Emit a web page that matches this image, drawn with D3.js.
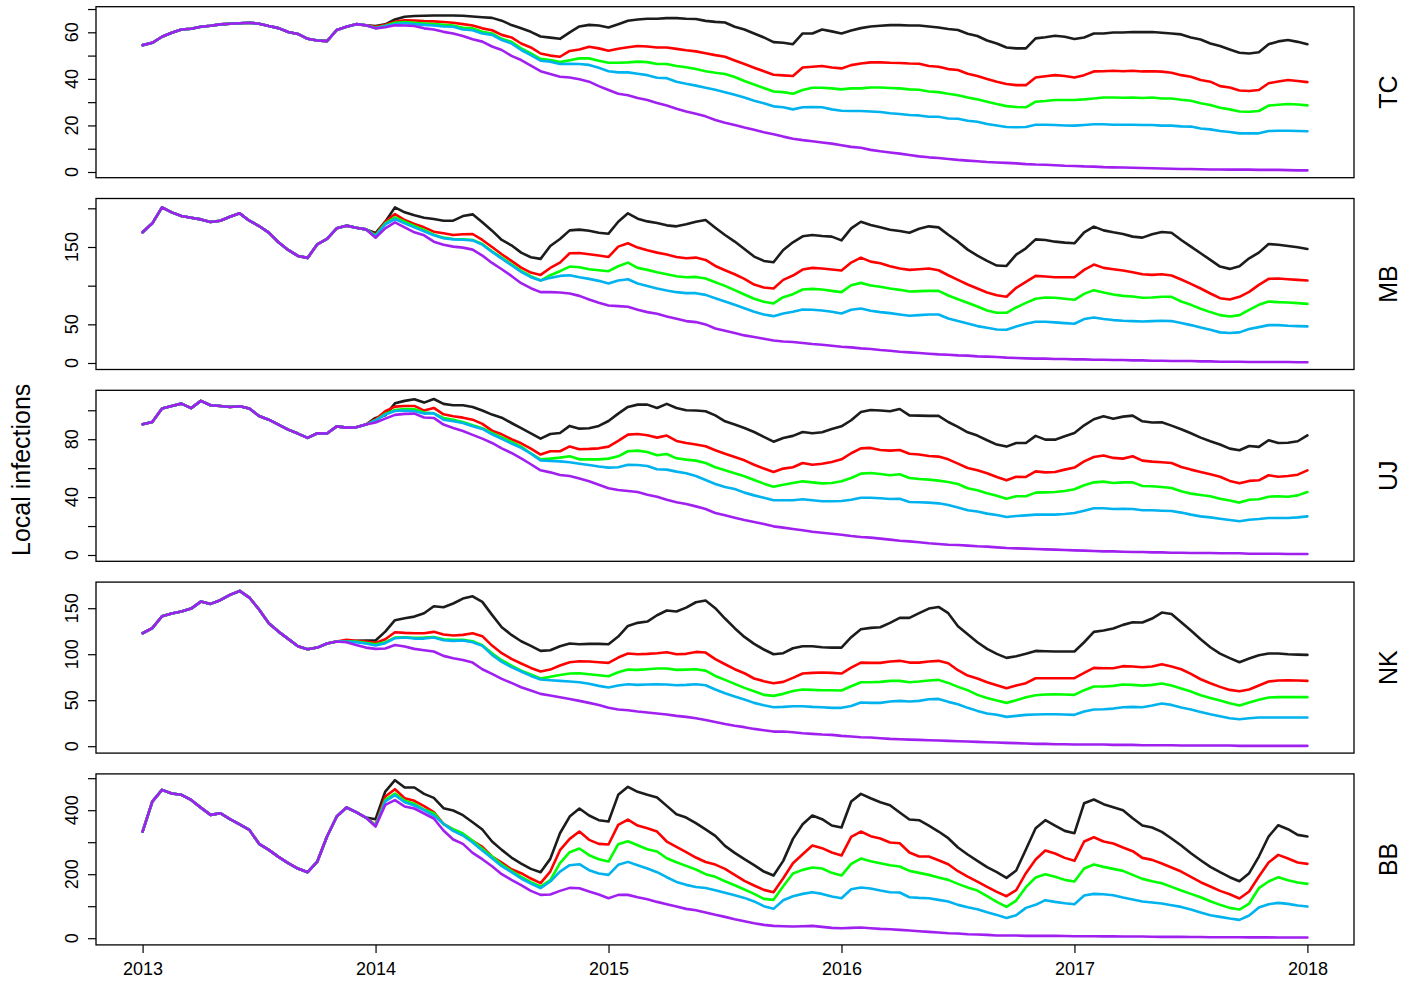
<!DOCTYPE html>
<html>
<head>
<meta charset="utf-8">
<script src="https://cdn.jsdelivr.net/npm/d3@7"></script>
<style>
  body { margin: 0; background: #ffffff; }
  svg text { font-family: "Liberation Sans", Arial, Helvetica, sans-serif; fill: #000; }
</style>
</head>
<body>
<svg id="chart" width="1416" height="982"></svg>
<script>
// Half-monthly time grid, January 2013 to January 2018
const dates = d3.range(121).map(i => 2013 + i / 24);
const yearTicks = [2013, 2014, 2015, 2016, 2017, 2018];

// Scenario line colours, drawn in this order (purple on top)
const scenarioColors = ["#1c1c1c", "#ff0000", "#00ff00", "#00b2ee", "#a020f0"];

// ---- TC ----  (common history before the scenarios split)
const tcEarly = [54.5,55.5,58.1,59.8,61.2,61.5,62.4,62.8,63.4,63.7,63.9,64.1,63.7,62.7,61.8,60.1,59.3,57.2,56.5,56.2,61,62.4,63.5,63];
const tcBlack = tcEarly.concat([62.7,63.4,65.5,66.7,67,67.1,67.2,67.2,67.2,67.1, 66.8,66.5,66.2,65,63.1,61.7,60.2,58.2,57.7,57.2, 60,62.5,63.2,62.9,62.1,63.5,65,65.5,65.8,65.8, 66.1,66.1,65.8,65.7,64.9,64.5,64.2,62.4,61.2,59.5, 57.8,55.8,55.5,54.9,59.5,59.5,61.2,60.4,59.5,60.8, 61.8,62.5,62.8,63.1,63.1,62.9,62.9,62.5,62.1,61.4, 61,59.4,58.4,56.5,55.2,53.5,53.1,53.1,57.4,57.9, 58.5,58.1,57.1,57.8,59.5,59.5,59.9,59.9,60.1,60.1, 60.1,59.8,59.5,59.1,57.8,56.9,55.2,54.1,52.6,51.2, 50.9,51.4,54.9,56.1,56.7,55.9,54.9]);
const tcRed = tcEarly.concat([62.4,63.2,64.5,65.2,65.1,64.8,64.7,64.4,64.1,63.5, 62.9,61.7,60.9,58.9,57.8,55.2,53.5,50.9,50,49.5, 52,52.6,53.8,53.1,52.1,52.9,53.6,54.1,53.9,53.5, 53.5,52.9,52.3,51.8,51,50.2,49.5,47.9,46.4,44.8, 43.3,41.8,41.5,41.2,44.9,45.2,45.5,44.9,44.5,45.9, 46.6,47.1,47.1,46.9,46.8,46.6,46.5,45.5,45.2,44.2, 43.8,42.2,41.2,39.9,38.8,37.8,37.3,37.3,40.6,41.1, 41.6,41.2,40.6,41.6,43.2,43.3,43.5,43.3,43.5,43.2, 43.3,43.1,42.6,41.6,40.9,39.5,38.8,36.9,36.3,35, 34.8,35.2,38.1,38.9,39.5,39.1,38.6]);
const tcGreen = tcEarly.concat([62.1,62.8,64.1,64.4,64.1,63.8,63.5,63.2,62.9,61.9, 61.7,60.2,59.5,57.2,55.9,53.1,50.9,48.6,48.1,47.2, 48,48.8,48.8,47.8,46.9,46.9,47.1,47.4,47.2,46.4, 46.4,45.5,45,44.2,43.3,42.6,42.1,40.8,39.1,37.6, 36.1,34.6,34.3,33.6,35.2,36.2,36.2,35.9,35.5,35.9, 35.9,36.3,36.3,36.1,35.9,35.5,35.3,34.6,34.3,33.6, 33,32,31.2,30.2,29.2,28.3,27.9,27.8,30.2,30.5, 30.9,30.9,30.9,31.2,31.6,32,32,31.9,32,31.8, 32,31.6,31.6,31,30.6,29.5,28.8,27.6,26.9,26, 25.9,26.2,28.5,28.9,29.2,29,28.6]);
const tcBlue = tcEarly.concat([61.7,62.7,63.5,63.9,63.5,63.2,62.9,62.5,62.4,61.2, 60.9,59.5,58.9,56.7,55.2,52.4,50.2,47.8,47.4,46.4, 46.5,46.4,46,44.8,43.3,42.8,42.8,42.2,41.6,40.5, 40.3,38.8,37.9,37.1,36.2,35.3,34.3,33.2,32,30.6, 29.5,28.2,27.8,26.9,27.8,27.9,27.8,26.9,26.3,26.2, 26.2,26,25.8,25.2,24.9,24.5,24.3,23.7,23.7,23, 22.9,22,21.6,20.6,20,19.3,19.2,19.3,20.3,20.3, 20.2,20,19.9,20.2,20.5,20.5,20.3,20.3,20.3,20.2, 20.2,19.9,19.9,19.6,19.5,18.7,18.3,17.6,17.2,16.6, 16.6,16.6,17.6,17.7,17.7,17.6,17.5]);
const tcPurple = tcEarly.concat([61.7,62.2,63,62.9,62.7,61.7,61.2,60.2,59.5,58.4, 57,56,53.9,52.4,49.9,48.1,45.7,43.3,42.1,40.9, 40.6,39.8,38.8,36.9,35.2,33.6,33,31.8,30.9,29.6, 28.6,27.2,26,25,23.9,22.3,21.2,20.2,19.1,18.1, 17.1,16.2,15.2,14.3,13.7,13.2,12.7,12.2,11.5,10.8, 10.4,9.5,8.9,8.4,7.9,7.3,6.7,6.3,6,5.6, 5.2,4.9,4.6,4.3,4.1,3.9,3.7,3.4,3.2,3.1, 2.9,2.7,2.6,2.4,2.3,2.1,2,1.9,1.8,1.7, 1.6,1.5,1.4,1.3,1.3,1.2,1.1,1.1,1,1, 1,0.9,0.9,0.9,0.8,0.7,0.7]);

// ---- MB ----
const mbEarly = [169,180.6,201.2,194.8,190,187.9,185.7,182.3,184,189.2,193.5,184,177.1,168.5,156.1,146.2,138.4,135.9,153.5,160.4,174.1,177.6,175,172.8];
const mbBlack = mbEarly.concat([168,182.7,201.2,194.8,190.9,187.9,186.2,184,184,190, 192.2,181.9,171.1,159.1,152.2,142.7,136.7,134.6,151.3,160.4, 171.5,172.4,171.1,168.5,167.2,182.7,193.5,186.6,183.1,181, 178,176.7,179.3,182.7,184.9,174.9,165.5,157,147.5,137.6, 132,130.3,146.2,156.1,163.8,165.5,164.2,163.4,158.6,174.1, 182.7,178.4,175.4,172.4,170.7,168.5,173.6,176.7,175.4,165.9, 156.9,146.6,138.9,132,126,125.5,140.2,148.3,159.9,159.1, 156.9,155.6,154.8,169,176.3,171.5,169,166.8,163.4,162.1, 166.4,169.4,168.5,159.1,150.5,141.9,133.3,124.7,121.7,125.1, 135.4,142.7,153.9,153,151.3,149.6,147.5]);
const mbRed = mbEarly.concat([166,182.7,192.6,184.9,179.7,175.4,169.8,167.7,165.5,166.4, 166.8,159.1,150,140.6,132,123.4,116.9,113.9,122.9,129.8, 141.9,142.3,140.6,138.9,137.1,150.5,154.8,149.2,145.7,142.7, 140.2,137.1,135.4,136.3,133.3,125.5,120,114.8,108.8,101.5, 97.6,96.3,107.5,113.1,120.8,123,122.1,120.8,119.5,129.8, 136.3,131.1,129,125.1,122.1,120.4,121.2,122.1,119.9,113.5, 107.5,101.5,96.3,91.2,87.7,85.6,97.2,104.9,112.6,111.8, 110.9,110.9,110.9,120.4,127.3,123,121.2,119.5,117.4,114.8, 113.9,114.8,113.1,107.9,102.3,96.3,89.9,83.8,82.1,85.6, 92,101,108.8,109.2,108.3,107.5,106.6]);
const mbGreen = mbEarly.concat([165,180.6,188.3,182.7,177.1,172,166,162.1,160.4,159.9, 159.1,153.9,144.5,136.3,127.7,119.1,112.2,106.6,113.5,118.7, 124.7,123.8,121.2,119.9,118.7,125.1,129.8,123,120.4,117.4, 114.8,112.2,110.9,111.3,109.2,104.5,99.7,94.2,88.6,83, 79.1,77,85.1,89,95,95.9,95,93.3,91.6,100.6, 103.6,100.2,98.5,96.3,94.6,92.4,92.9,93.3,93.3,87.3, 82.5,77.8,73.1,67.9,64.9,64.9,71.8,77.8,83,84.7, 84.3,83,81.7,89.4,94.2,91.2,88.6,86.8,86,84.3, 84.7,85.6,85.6,79.5,75.2,70.1,65.8,61.9,60.2,61.9, 68.8,75.2,79.5,78.7,78.2,77.4,76.5]);
const mbBlue = mbEarly.concat([164,179.3,186.2,180.6,175.4,170.2,165.1,161.2,159.9,159.4, 158.6,153,143.6,135,126.4,117.8,110.9,106.6,110.1,112.6, 113.5,110.9,108.8,106.2,102.8,106.6,108.3,102.8,99.7,96.3, 93.7,91.6,90.3,90.3,88.1,83.8,79.5,75.2,70.9,66.2, 62.8,60.6,64.1,66.2,69.2,68.8,67.9,66.2,64.1,68.8, 70.5,67.5,65.8,64.5,62.8,61.1,61.9,62.8,62.8,57.6, 54.2,51.2,47.7,45.6,43.4,43,47.3,50.7,53.3,53.3, 52.5,51.6,50.7,56.8,58.9,56.8,55.5,54.6,54.2,53.7, 54.2,54.6,54.2,51.6,49,46,43,39.6,38.7,39.6, 43.9,46.4,49,49,48.2,47.7,47.3]);
const mbPurple = mbEarly.concat([162,174.1,181.9,175.4,169,165.1,156.9,153,150.5,149.2, 146.6,138.9,129.4,121.2,112.6,103.2,96.7,91.6,91.6,91.1, 89.9,86.8,82.1,77.8,74.4,73.5,72.7,68.8,65.8,63.6, 60.2,57.2,54.2,52.9,49.9,44.7,41.7,38.7,35.7,33.5, 31.4,29.2,27.9,27.1,25.8,24.5,23.6,22.4,21.1,20.2, 18.9,18.1,16.8,15.9,14.6,13.8,12.9,12,11.2,10.7, 9.9,9.5,8.6,8.2,7.7,6.9,6.4,6,5.6,5.6, 5.2,5.2,4.7,4.7,4.3,4.3,3.9,3.9,3.4,3.4, 3,3,2.6,2.6,2.6,2.1,2.1,1.7,1.7,1.7, 1.3,1.3,1.3,1.3,1.3,0.9,0.9]);

// ---- UJ ----
const ujEarly = [90.3,91.9,101.2,103,104.6,101.5,106.5,103.5,103,102.3,102.8,101.2,96.1,93.5,90.1,86.6,83.9,80.9,84.1,83.9,88.9,88,88.2,90.1];
const ujBlack = ujEarly.concat([94.7,96.5,104.8,106.5,107.6,105.3,107.8,104.4,103.5,103.5, 102.3,99.8,97,94.9,91.2,87.6,84.1,80.4,83.6,84.3, 89.2,87.3,87.6,89.2,92.6,97.7,102.3,103.9,103.9,101.6, 104.4,101.6,100,99.8,99.3,96.5,92.4,90.1,87.8,85, 81.6,78.3,80.9,82.3,85,84.1,84.8,87.1,88.9,93.1, 98.8,100.2,99.8,99.3,100.9,96.5,96.3,96.1,96.1,91.9, 88.5,84.8,82.5,79.3,76.3,74.9,77.4,77.4,82.3,79.7, 79.7,82,84.3,89.6,93.8,95.9,94.2,95.6,96.3,92.4, 91.5,91.7,89.4,86.9,84.1,81.1,78.6,76.3,73.5,72.4, 75.3,74.7,79.3,77.4,77.6,78.6,82.7]);
const ujRed = ujEarly.concat([93.8,99.3,102.5,103,103,99.8,101.6,97.2,95.9,94.9, 93.5,90.6,85.9,83.4,80,77.2,73.5,69.4,71.7,71.7, 75,73.1,73.3,73.7,74.9,78.8,83.2,83.6,82.7,81.1, 82.5,78.8,77.4,76.3,75.1,72.4,70,67.7,65.4,62.4, 59.7,57.4,59.7,60.6,63.6,62.4,63.1,64.3,66.1,70.3, 73.7,74,72.6,72.1,72.6,70,69.4,68.4,68,66.1, 63.1,60.1,58.5,56.5,53.9,51.6,54.1,53.9,57.8,57.1, 57.4,59,60.4,64.7,67.7,68.7,67.1,66.6,68.2,65.2, 64.5,64.1,63.6,60.8,59,57.4,55.8,54.1,51.2,49.5, 51.2,51.6,55.1,54.1,54.6,55.5,58.5]);
const ujGreen = ujEarly.concat([93.1,97.5,100.2,100.9,100.7,98.4,97.9,94.7,93.5,91.9, 89.6,87.6,84.3,81.3,78.1,74.9,70.3,66.1,66.6,67.3, 68.2,66.1,66.1,66.1,66.6,68.2,71.7,72.1,71.2,68.9, 69.8,66.8,65.9,65.2,63.6,60.6,58.5,56.5,54.4,51.8, 49.3,47.2,48.6,49.8,50.9,50.2,49.5,49.8,50.9,53.2, 56.2,56.7,56,55.1,55.8,53.2,52.5,52.1,51.4,50.5, 49.1,46.1,44.7,42.6,41,38.9,40.6,40.6,43.1,43.3, 43.5,44.2,45.4,48.2,50.2,50.7,49.8,50.2,50.2,47.7, 47.5,47,46.3,44,42.4,41.5,40.6,38.9,37.6,36.2, 38.2,38.5,40.3,40.6,40.3,41.2,43.5]);
const ujBlue = ujEarly.concat([92.9,97,99.5,99.8,99.3,97.7,97.9,93.5,92.4,91.2, 88.9,87.1,83.4,80.2,77,74,70,65.4,65,64.7, 64.1,63.1,62.2,61.1,60.4,60.6,62.4,62.2,61.5,59.2, 59,57.6,56.5,54.6,51.8,49.1,47,45.6,43.1,41.2, 39.6,37.8,37.8,37.8,38.5,37.8,37.1,37.1,37.3,38.2, 39.6,39.6,39.2,38.7,38.9,36.6,36.4,36.2,35.7,34.6, 32.9,30.9,30,28.6,27.6,26.3,27,27.4,27.9,27.9, 27.9,28.3,29,30.6,32.3,32.3,31.8,32,31.8,30.9, 30.9,30.6,30.4,29.3,27.9,26.7,26,25.1,24.2,23.3, 24.4,24.9,25.6,25.6,25.6,26,26.7]);
const ujPurple = ujEarly.concat([91.5,94.2,96.8,97.5,97.7,95,94.7,90.1,87.8,85.7, 83,80.4,77.4,73.7,70.5,66.8,62.7,58.5,57.1,55.3, 54.6,52.8,50.9,48.6,46.1,44.9,44.2,43.5,41.7,40.3, 38.2,36.4,35.3,33.6,31.8,29,27.4,25.8,24.2,22.8, 21.4,19.8,18.9,18,17.1,16.1,15.4,14.7,14,13.1, 12.4,12,11.3,10.6,9.9,9.4,8.8,8.1,7.6,7.1, 6.9,6.5,6,5.8,5.3,4.8,4.6,4.4,4.1,3.9, 3.7,3.5,3.2,3,2.8,2.5,2.5,2.3,2.1,2.1, 1.8,1.8,1.6,1.6,1.4,1.4,1.4,1.2,1.2,1.2, 0.9,0.9,0.9,0.9,0.7,0.7,0.7]);

// ---- NK ----
const nkEarly = [122.8,128.3,141.3,144.2,146.4,149.6,157.2,154.7,158.7,164.5,168.8,161.6,148.6,133.7,124.6,116.7,108.7,105.4,107.2,111.6,113.8];
const nkBlack = nkEarly.concat([113.8,114.5,114.9, 114.9,124.6,137,139.1,140.9,144.6,152.2,151.1,155.1,160.5, 163,156.9,142.8,129.3,121,114.1,109.1,103.6,104.3,108.7, 111.6,110.9,111.2,111.2,110.9,119.2,130.8,134.1,135.5,142.4, 147.5,146.4,150.7,156.5,158.3,150,138.8,128.3,118.8,111.2, 105.1,100,101.1,106.5,108.7,108.7,107.6,107.2,107.2,118.5, 127.2,128.6,129.3,134.1,139.5,139.5,144.6,149.6,151.4,144.6, 130.4,121.7,113,105.8,100.4,96,97.8,100.4,103.6,103.3, 102.9,102.9,102.9,113,124.3,125.7,127.9,131.9,134.8,134.4, 138.8,145.3,143.8,134.8,125.7,116.3,107.6,100.7,95.7,91.3, 95.3,98.9,100.7,100.7,100,99.6,99.3]);
const nkRed = nkEarly.concat([115.6,114.5,113.8, 112.3,116.3,123.9,123.2,122.8,122.8,124.3,121.4,120.3,121, 122.8,119.6,109.4,101.1,94.9,89.9,85.1,81.2,83.3,87.7, 91.3,92.4,92,91.3,90.6,96.4,100.7,100,100.4,101.1, 102.2,100,100.4,102.5,101.8,94.6,89.1,83.7,79.3,73.6, 70.7,68.5,69.9,74.3,79,79.7,80.1,79.7,79,85.5, 90.9,90.6,90.6,92,92.8,90.9,90.9,92,92.8,90.2, 82.6,76.8,73.6,69.6,66.3,63,65.9,68.5,73.9,73.9, 73.9,73.9,73.9,79.7,85.1,84.8,84.8,87,86.6,85.9, 86.6,89.1,86.6,83.7,78.6,72.8,68.5,64.5,61.2,59.8, 61.6,66,70.3,71.4,71.7,71.4,71]);
const nkGreen = nkEarly.concat([113.8,113.8,112.3, 110.9,113,118.1,118.5,117.8,118.1,118.8,116.3,115.6,115.6, 114.1,109.8,101.1,93.5,87.7,82.2,77.9,73.6,75.4,77.5, 79,79.3,78.3,77.2,76.1,80.4,83.3,83,83.7,84.4, 84.4,83,83.3,83.7,82.2,76.4,72.1,67.8,63.4,59.8, 55.8,54.7,56.9,60.1,61.6,61.2,60.9,60.9,60.5,65.2, 69.6,69.6,69.9,71,71,69.6,70.3,71.4,72.1,68.8, 64.5,60.9,55.8,52.5,49.6,47.1,50,53.3,55.4,56.2, 56.5,56.2,55.8,60.9,64.9,64.9,65.6,67,66.7,65.9, 66.7,68.1,65.9,62.7,59.4,55.4,52.5,49.6,46.7,44.2, 47.5,50.4,52.9,53.3,53.3,53.3,53.3]);
const nkBlue = nkEarly.concat([113.8,113,111.6, 109.4,112,117.4,118.1,117,117,118.1,115.2,114.5,114.9, 113,109.1,99.3,91.7,85.9,81.2,76.4,72.5,71.7,71, 70.3,69.6,67.8,65.6,63.8,65.9,67.4,66.7,67,67.4, 67,66.3,66.7,67.4,66.3,61.6,57.6,54,50.7,47.1, 44.6,42.4,42.8,43.5,43.5,42.8,42.4,41.7,41.7,43.8, 47.5,47.1,47.1,48.6,49.3,48.6,49.3,51.1,51.4,48.2, 45.7,41.7,38.4,35.5,34.1,31.9,33,34.1,34.4,34.8, 34.8,34.4,34.1,37.7,39.9,40.2,40.9,42.4,42.8,42.4, 44.2,46.4,44.9,42,39.9,37.3,34.8,32.6,30.4,29.3, 30.4,31.2,31.2,31.2,31.2,31.2,31.2]);
const nkPurple = nkEarly.concat([113,110.1,107.2, 105.8,106.2,110.1,108.3,105.8,104.3,102.9,98.2,95.7,93.8, 90.9,83.7,78.6,73.2,68.8,64.1,60.5,56.9,55.1,53.3, 51.4,49.3,47.1,44.9,41.7,39.9,39.1,37.7,36.6,35.5, 34.4,33,31.9,30.4,28.5,26.4,24.2,22.3,20.7,18.8, 17.4,15.9,15.9,15.2,14.1,13.4,12.7,12.3,11.2,10.5, 9.8,9.4,8.7,8,7.6,7.2,6.9,6.5,6.2,5.8, 5.4,5.1,4.7,4.3,4,3.6,3.3,2.9,2.5,2.5, 2.2,2.2,1.8,1.8,1.8,1.8,1.4,1.4,1.4,1.1, 1.1,1.1,1.1,0.7,0.7,0.7,0.7,0.7,0.7,0.4, 0.4,0.4,0.4,0.4,0.4,0.4,0.4]);

// ---- BB ----
const bbEarly = [333,427,463.5,452,448,432,408,385.4,390.6,372,356,338.5,294.8,276,254.2,234.4,217.7,206.3,239.6,317.7,380.2,408.3,393.8,377];
const bbBlack = bbEarly.concat([371.9,458.3,493.8,470.8,470.8,451,438.5,406.3,399,384.4, 362.5,339.6,302,276,252,233.3,216.7,206.3,247.9,328, 380.2,405.2,383.3,368.8,364.6,448,472.9,457.3,448,439.6, 413.5,387.5,377,359.4,340,319.8,288.5,266.7,246.9,228.1, 208.3,195.8,241.7,310.4,356.3,383.3,371.9,352.1,345.8,427.1, 451,437.5,425,415.6,392.7,370.8,368.8,352.1,333.3,312.5, 283.3,261.5,241.7,221.9,206.3,188.5,211.5,277.1,343.8,368.8, 352.1,335.4,328.1,421.9,433.3,418.8,409.4,400,375,352.1, 345.8,332.3,311.5,289.6,265.6,243.8,222.9,206.3,190.6,178.1, 203.1,255.2,317.7,353.1,340.6,322.9,317.7]);
const bbRed = bbEarly.concat([354,442.7,465.6,437.5,429.2,412.5,393.8,357.3,339.6,322.9, 304.2,285.4,255.2,236.5,215.6,203.1,186.5,171.9,208.3,275, 310.4,333.3,307.3,294.8,292.7,354.2,370.8,352.1,343.8,333.3, 302.1,285.4,268.8,252.1,238,230,216.7,197.9,179.2,164.6, 151,143.8,187.5,234.4,262.5,289.6,281.3,267.7,258.3,316.7, 333.3,318.8,311.5,299,296.9,267.7,255.2,255.2,243.8,231.3, 209.4,192.7,177.1,160.4,144.8,131.3,150,203.1,245.8,273.9, 264.6,251,241.7,302.1,315.6,302.1,295.8,283.3,271.9,251, 244.8,233.3,220.8,208.3,191.7,175,161.5,147.9,137.5,124, 145.8,192.7,236.5,260.4,249,236.5,232.3]);
const bbGreen = bbEarly.concat([352,432.3,452.1,429.2,419.8,402.1,390.6,356.3,340.6,327.1, 304.2,279.2,255.2,230.2,210.4,191.7,175,161.5,181.3,234.4, 268.8,280.2,259.4,246.9,239.6,293.8,303.1,290.6,278.1,270.8, 250,237.5,226,214.6,200,191.7,178.1,165.6,152.1,138.5, 122.9,119.8,162.5,202.1,213.5,220.8,217.7,204.2,195.8,232.3, 249,240.6,234.4,228.1,224,210.4,204.2,197.9,189.6,182.3, 169.8,158.3,149,131.3,113.5,97.9,117.7,159.4,189.6,200, 191.7,182.3,177.1,217.7,230.2,222.9,216.7,210.4,197.9,185.4, 178.1,171.9,160.4,149,138.5,128.1,115.6,104.2,94.8,89.6, 108.3,156.3,177.1,190.6,181.3,174,169.8]);
const bbBlue = bbEarly.concat([351,427.1,446.9,425,414.6,400,383.3,357.3,335.4,320.8, 299,274,250,225,206.3,186.5,170.8,156.3,177.1,208.3, 228.1,231.3,212.5,202.1,197.9,229.2,238.5,228.1,217.7,206.3, 190.6,176,166.7,160,157,150,142,134,126,115, 100,91.7,118.8,131.3,138.5,143.8,138.5,130.2,125,153.1, 158.3,155.2,149,143.8,142.7,128.1,126,125,119.8,114.6, 104.2,96.9,90.6,81.3,72.9,63.5,71.9,94.8,104.2,118.8, 113.5,109.4,106.3,133.3,138.5,137.5,134.4,127.1,120.8,114.6, 111.5,108.3,103.1,97.9,89.6,80.2,71.9,66.7,61.5,57.3, 70.8,95.8,106.3,110.4,107.3,102.1,99]);
const bbPurple = bbEarly.concat([349,416.7,431.3,411.5,405.2,389.6,374,336.5,308.3,294.8, 266.7,246.9,225,200,182.3,165.6,147.9,135.4,136.5,147.9, 157.3,156.3,145.8,136.5,125,135.4,135.4,128.1,121.9,113.5, 106.3,99,91.7,87.5,80,73,66.7,59.4,53.1,46.9, 41.7,38.5,37.5,36.5,37.5,38.5,35.4,32.3,31.3,32.3, 33.3,31.3,29.2,28.1,26,24,21.9,19.8,17.7,15.6, 14.6,12.5,11.5,10.4,8.3,8.3,8.3,7.3,7.3,7.3, 7.3,6.8,6.3,6.3,6.3,5.7,5.7,5.2,5.2,5.2, 4.7,4.2,4.2,4.2,3.6,3.6,3.1,3.1,3.1,3.1, 2.6,2.6,2.6,2.1,2.1,2.1,2.1]);

// Per-panel axis ticks and which of them carry labels
const tcTicks = [0, 10, 20, 30, 40, 50, 60, 70],  tcLabels = [0, 20, 40, 60];
const mbTicks = [0, 50, 100, 150, 200],           mbLabels = [0, 50, 150];
const ujTicks = [0, 20, 40, 60, 80, 100],         ujLabels = [0, 40, 80];
const nkTicks = [0, 50, 100, 150],                nkLabels = [0, 50, 100, 150];
const bbTicks = [0, 100, 200, 300, 400, 500],     bbLabels = [0, 200, 400];

const panels = [
  { name: "TC", series: [tcBlack, tcRed, tcGreen, tcBlue, tcPurple], domain: [-2.45, 71.0],  ticks: tcTicks, labels: tcLabels },
  { name: "MB", series: [mbBlack, mbRed, mbGreen, mbBlue, mbPurple], domain: [-8.4, 212.7],  ticks: mbTicks, labels: mbLabels },
  { name: "UJ", series: [ujBlack, ujRed, ujGreen, ujBlue, ujPurple], domain: [-4.35, 113.8], ticks: ujTicks, labels: ujLabels },
  { name: "NK", series: [nkBlack, nkRed, nkGreen, nkBlue, nkPurple], domain: [-7.5, 178.4],  ticks: nkTicks, labels: nkLabels },
  { name: "BB", series: [bbBlack, bbRed, bbGreen, bbBlue, bbPurple], domain: [-20.9, 513.4], ticks: bbTicks, labels: bbLabels }
];

// Layout
const left = 96, right = 1354;
const firstTop = 6.7, panelH = 171, panelStep = 191.8;
const tickLen = 8;
const tickFont = 18, titleFont = 25;

const svg = d3.select("#chart");
const x = d3.scaleLinear().domain([2012.8, 2018.2]).range([left, right]);

panels.forEach((p, i) => {
  const top = firstTop + i * panelStep;
  const bottom = top + panelH;
  const y = d3.scaleLinear().domain(p.domain).range([bottom, top]);
  const g = svg.append("g").attr("class", "panel");

  const line = d3.line()
    .defined((d, j) => j < dates.length)
    .x((d, j) => x(dates[j]))
    .y(d => y(d));

  p.series.forEach((vals, k) => {
    g.append("path")
      .datum(vals)
      .attr("d", line)
      .attr("fill", "none")
      .attr("stroke", scenarioColors[k])
      .attr("stroke-width", 2.6)
      .attr("stroke-linejoin", "round")
      .attr("stroke-linecap", "round");
  });

  // Frame
  g.append("rect")
    .attr("x", left).attr("y", top)
    .attr("width", right - left).attr("height", panelH)
    .attr("fill", "none").attr("stroke", "#000").attr("stroke-width", 1.3);

  // Left axis: ticks from the scale, labels set parallel to the axis
  const yAxis = g.append("g")
    .attr("transform", `translate(${left},0)`)
    .call(d3.axisLeft(y).tickValues(p.ticks).tickSize(tickLen).tickSizeOuter(0).tickFormat(""));
  yAxis.select(".domain").remove();
  yAxis.selectAll(".tick line").attr("stroke", "#000").attr("stroke-width", 1.2);

  g.selectAll("text.ylab")
    .data(p.labels)
    .enter().append("text")
    .attr("class", "ylab")
    .attr("transform", d => `translate(${left - 24},${y(d)}) rotate(-90)`)
    .attr("text-anchor", "middle")
    .attr("dy", "0.35em")
    .style("font-size", tickFont + "px")
    .text(d => d);

  // Region name on the right margin
  g.append("text")
    .attr("transform", `translate(${right + 34},${(top + bottom) / 2}) rotate(-90)`)
    .attr("text-anchor", "middle")
    .attr("dy", "0.35em")
    .style("font-size", titleFont + "px")
    .text(p.name);

  // Shared time axis under the last panel
  if (i === panels.length - 1) {
    const xAxis = g.append("g")
      .attr("transform", `translate(0,${bottom})`)
      .call(d3.axisBottom(x).tickValues(yearTicks).tickSize(tickLen).tickSizeOuter(0).tickFormat(d3.format("d")));
    xAxis.select(".domain").remove();
    xAxis.selectAll(".tick line").attr("stroke", "#000").attr("stroke-width", 1.2);
    xAxis.selectAll(".tick text")
      .attr("y", 30).attr("dy", 0)
      .style("font-size", tickFont + "px")
      .style("font-family", "\"Liberation Sans\", Arial, Helvetica, sans-serif")
      .attr("fill", "#000");
  }
});

// Shared y-axis title
svg.append("text")
  .attr("transform", `translate(21,${(firstTop + firstTop + 4 * panelStep + panelH) / 2 - 6}) rotate(-90)`)
  .attr("text-anchor", "middle")
  .attr("dy", "0.35em")
  .style("font-size", titleFont + "px")
  .text("Local infections");
</script>
</body>
</html>
